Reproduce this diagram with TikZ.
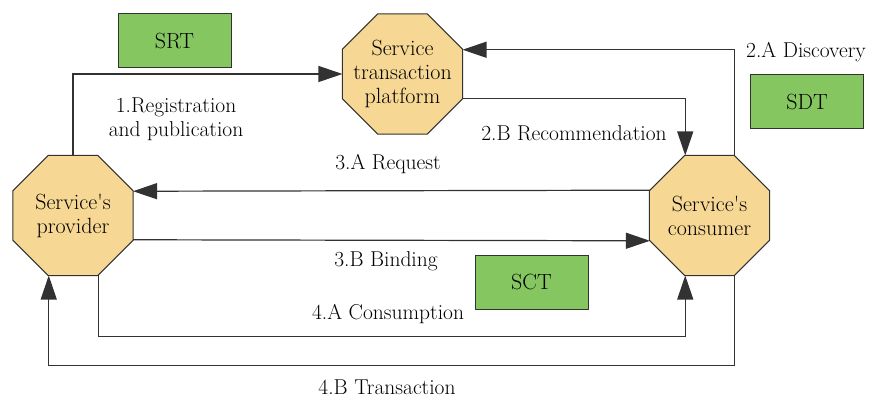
\documentclass[tikz,border=0pt]{standalone}
\usetikzlibrary{shapes.geometric,arrows.meta}
\definecolor{octfill}{RGB}{246,215,148}
\definecolor{boxgreen}{RGB}{133,198,96}
\definecolor{edgecol}{RGB}{50,50,50}
\newcommand{\sq}{\textquotesingle}
\begin{document}
\begin{tikzpicture}[x=1pt,y=-1pt,
  oct/.style={regular polygon, regular polygon sides=8, minimum size=130pt,
    inner sep=-8pt, outer sep=0pt, fill=octfill, draw=edgecol, line width=1pt,
    align=center, font=\fontsize{22}{24}\selectfont},
  tagbox/.style={rectangle, minimum width=113pt, minimum height=54pt,
    fill=boxgreen, draw=edgecol, line width=1pt, font=\fontsize{22}{24}\selectfont},
  lbl/.style={font=\fontsize{21.5}{24}\selectfont, align=center, inner sep=0pt},
  conn/.style={draw=edgecol, line width=1.2pt, -{Triangle[length=24pt,width=16pt]}}]
\useasboundingbox (0,0) rectangle (869,398);

\node[oct] (prov) at (73,215.5) {Service\sq s\\provider};
\node[oct] (cons) at (709.5,215.5) {Service\sq s\\consumer};
\node[oct] (plat) at (402.5,74) {Service\\transaction\\platform};

\node[tagbox] (srt) at (174.5,41) {SRT};
\node[tagbox] (sdt) at (807,101.5) {SDT};
\node[tagbox] (sct) at (531.5,282) {SCT};

\node[lbl] (lreg) at (176,119) {1.Registration\\and publication};
\node[lbl] (lrec) at (574,133) {2.B Recommendation};
\node[lbl] (ldis) at (806,52) {2.A Discovery};
\node[lbl] (lreq) at (388,164) {3.A Request};
\node[lbl] (lbin) at (386,261) {3.B Binding};
\node[lbl] (lcon) at (388,314) {4.A Consumption};
\node[lbl] (ltra) at (387,387) {4.B Transaction};

\draw[conn] (prov.north) |- (plat.west);
\draw[conn] (plat.-22.5) -| (cons.112.5);
\draw[conn] (cons.67.5) |- (plat.22.5);
\draw[conn] (cons.157.5) -- (prov.22.5);
\draw[conn] (prov.-22.5) -- (cons.-157.5);
\draw[conn] (prov.-67.5) -- ++(0,61) -| (cons.-112.5);
\draw[conn] (cons.-67.5) -- ++(0,90) -| (prov.-112.5);
\end{tikzpicture}
\end{document}
